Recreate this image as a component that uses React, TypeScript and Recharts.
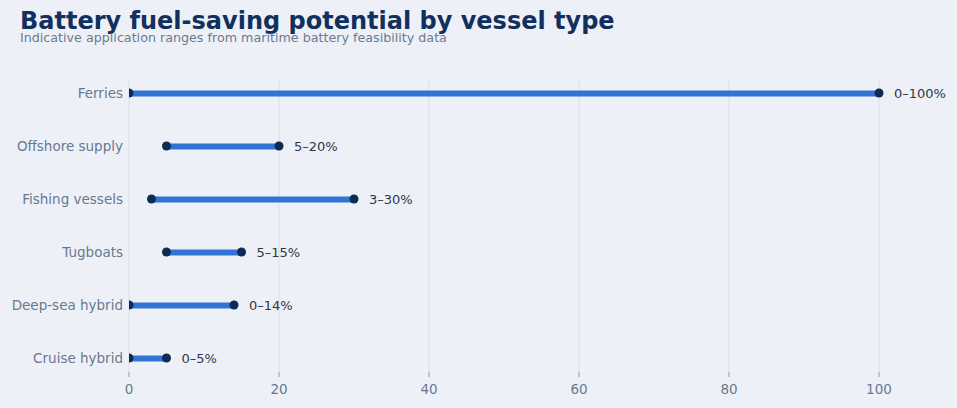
import { ComposedChart, Bar, Scatter, XAxis, YAxis, CartesianGrid, LabelList } from 'recharts'

const categories = ['Ferries', 'Offshore supply', 'Fishing vessels', 'Tugboats', 'Deep-sea hybrid', 'Cruise hybrid']
const lows = [0, 5, 3, 5, 0, 0]
const highs = [100, 20, 30, 15, 14, 5]
const xTicks = [0, 20, 40, 60, 80, 100]

const FONT = '"DejaVu Sans", Verdana, sans-serif'

const data = categories.map((name, i) => ({
  idx: i,
  name,
  low: lows[i],
  high: highs[i],
  range: [lows[i], highs[i]],
  label: `${lows[i]}–${highs[i]}%`,
}))

export default function App() {
  return (
    <div
      style={{
        position: 'absolute',
        left: 0,
        top: 0,
        width: 957,
        height: 408,
        background: '#edf1f7',
        fontFamily: FONT,
      }}
    >
      <div
        style={{
          position: 'absolute',
          left: 20,
          top: 7,
          fontSize: 24,
          fontWeight: 700,
          color: '#12305e',
          whiteSpace: 'nowrap',
        }}
      >
        Battery fuel-saving potential by vessel type
      </div>
      <div
        style={{
          position: 'absolute',
          left: 20,
          top: 30,
          fontSize: 12.7,
          color: '#6b7a90',
          whiteSpace: 'nowrap',
        }}
      >
        Indicative application ranges from maritime battery feasibility data
      </div>

      <ComposedChart
        width={957}
        height={408}
        data={data}
        layout="vertical"
        margin={{ top: 80, right: 3, left: 0, bottom: 6 }}
      >
        <CartesianGrid horizontal={false} verticalValues={xTicks} stroke="#d9dfe8" />
        <XAxis
          type="number"
          domain={[0, 110]}
          ticks={xTicks}
          allowDataOverflow
          height={30}
          axisLine={false}
          tickSize={5}
          tickMargin={7}
          tickLine={{ stroke: '#8a97ab' }}
          tick={{ fill: '#687891', fontSize: 13.5, fontFamily: FONT }}
        />
        <YAxis
          type="number"
          dataKey="idx"
          domain={[-0.245, 5.264]}
          ticks={[0, 1, 2, 3, 4, 5]}
          allowDataOverflow
          interval={0}
          width={129}
          axisLine={false}
          tickLine={false}
          tickSize={0}
          tickMargin={6}
          tickFormatter={(v: number) => categories[v] ?? ''}
          tick={{ fill: '#687891', fontSize: 13.5, fontFamily: FONT }}
        />
        <Bar dataKey="range" fill="#3174d4" barSize={6} isAnimationActive={false}>
          <LabelList
            dataKey="label"
            position="right"
            offset={15}
            fill="#2d3748"
            fontSize={13}
            fontFamily={FONT}
          />
        </Bar>
        <Scatter dataKey="low" fill="#0c2b55" isAnimationActive={false} />
        <Scatter dataKey="high" fill="#0c2b55" isAnimationActive={false} />
      </ComposedChart>
    </div>
  )
}
